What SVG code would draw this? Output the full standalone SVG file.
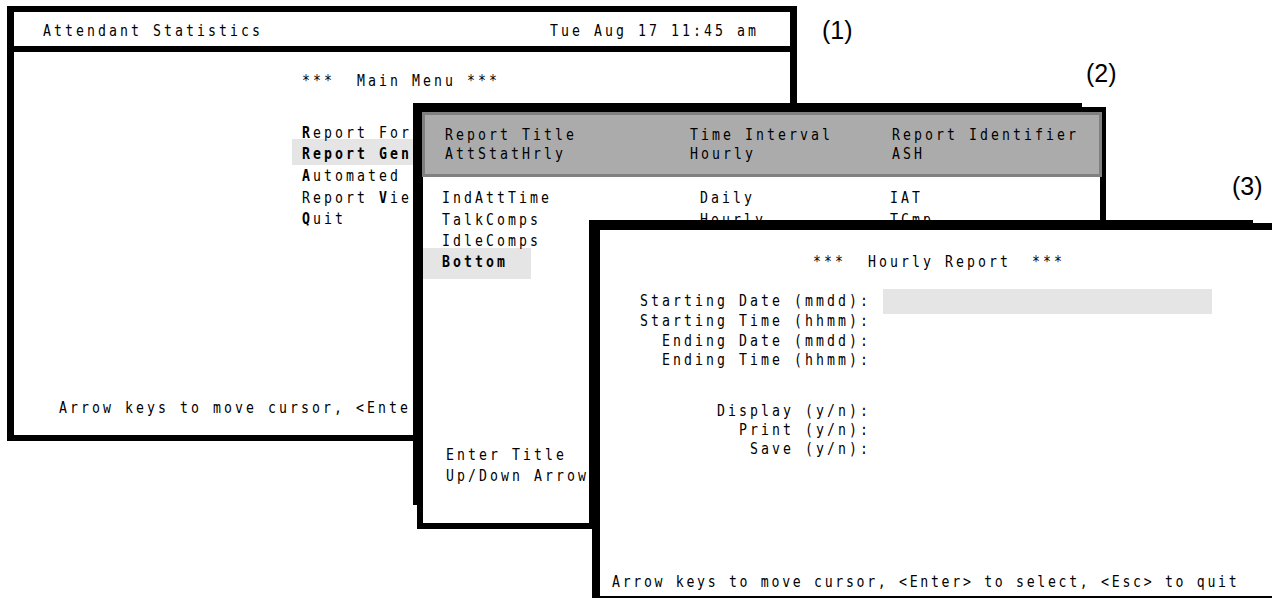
<svg xmlns="http://www.w3.org/2000/svg" width="1272" height="598" viewBox="0 0 1272 598">
<style>
.t{font-family:"DejaVu Sans Mono","Liberation Mono",monospace;font-size:16.5px;letter-spacing:3.82px;fill:#000;white-space:pre}
.b{font-weight:bold}
.n{letter-spacing:3.36px}
.lbl{font-family:"Liberation Sans",Arial,sans-serif;font-size:25px;fill:#000}
.k{fill:#000}
.w{fill:#fff}
.hl{fill:#e5e5e5}
</style>
<rect x="0" y="0" width="1272" height="598" fill="#fff"/>
<g id="window1">
<rect class="k" x="7" y="6" width="790" height="435"/>
<rect class="w" x="14" y="12" width="776" height="34"/>
<rect class="w" x="14" y="52" width="776" height="383"/>
<rect class="hl" x="292" y="139" width="121" height="26"/>
<g transform="scale(0.8 1)">
<text class="t" x="53.75" y="36">Attendant Statistics</text>
<text class="t" x="687.5" y="36">Tue Aug 17 11:45 am</text>
<text class="t" x="377.5" y="86" xml:space="preserve">***  Main Menu ***</text>
<text class="t" x="377.5" y="138"><tspan class="b">R</tspan>eport For</text>
<text class="t b" x="377.5" y="159">Report Gen</text>
<text class="t" x="377.5" y="181"><tspan class="b">A</tspan>utomated</text>
<text class="t" x="377.5" y="203">Report <tspan class="b">V</tspan>ie</text>
<text class="t" x="377.5" y="224"><tspan class="b">Q</tspan>uit</text>
<text class="t" x="73.75" y="413">Arrow keys to move cursor, &lt;Ente</text>
</g>
</g>
<g id="label1"><text class="lbl" x="822" y="39">(1)</text></g>
<g id="window2">
<rect class="w" x="417" y="107" width="686" height="422"/>
<rect class="k" x="413" y="103" width="669" height="9"/>
<rect class="k" x="1082" y="107" width="24" height="5"/>
<rect class="k" x="413" y="103" width="10" height="402"/>
<rect class="k" x="417" y="505" width="6" height="24"/>
<rect class="k" x="1100" y="107" width="6" height="130"/>
<rect class="k" x="417" y="523" width="185" height="6"/>
<rect x="423.5" y="113.5" width="677" height="62" fill="#ababab" stroke="#808080" stroke-width="3"/>
<rect class="hl" x="423" y="248" width="108" height="31"/>
<g transform="scale(0.8 1)">
<text class="t" x="556.25" y="140">Report Title</text>
<text class="t" x="556.25" y="159">AttStatHrly</text>
<text class="t" x="862.5" y="140">Time Interval</text>
<text class="t" x="862.5" y="159">Hourly</text>
<text class="t" x="1115" y="140">Report Identifier</text>
<text class="t" x="1115" y="159">ASH</text>
<text class="t" x="552.5" y="203">IndAttTime</text>
<text class="t" x="875" y="203">Daily</text>
<text class="t" x="1112.5" y="203">IAT</text>
<text class="t" x="552.5" y="225">TalkComps</text>
<text class="t" x="875" y="225">Hourly</text>
<text class="t" x="1112.5" y="225">TCmp</text>
<text class="t" x="552.5" y="246">IdleComps</text>
<text class="t b" x="552.5" y="267">Bottom</text>
<text class="t" x="557.5" y="460">Enter Title</text>
<text class="t" x="557.5" y="481">Up/Down Arrow</text>
</g>
</g>
<g id="label2"><text class="lbl" x="1086" y="82">(2)</text></g>
<g id="window3">
<rect class="w" x="600" y="230" width="672" height="366"/>
<rect class="k" x="589" y="220" width="664" height="10"/>
<rect class="k" x="1253" y="223" width="19" height="7"/>
<rect class="k" x="589" y="220" width="11" height="309"/>
<rect class="k" x="592" y="529" width="8" height="69"/>
<rect class="k" x="592" y="596" width="680" height="2"/>
<rect class="hl" x="883" y="289" width="329" height="25"/>
<g transform="scale(0.8 1)">
<text class="t" x="1016.25" y="267" xml:space="preserve">***  Hourly Report <tspan x="1290">***</tspan></text>
<text class="t" x="800" y="306">Starting Date (mmdd):</text>
<text class="t" x="800" y="326">Starting Time (hhmm):</text>
<text class="t" x="827.5" y="346">Ending Date (mmdd):</text>
<text class="t" x="827.5" y="365">Ending Time (hhmm):</text>
<text class="t" x="896.25" y="416">Display (y/n):</text>
<text class="t" x="923.75" y="435">Print (y/n):</text>
<text class="t" x="937.5" y="454">Save (y/n):</text>
<text class="t n" x="765" y="587">Arrow keys to move cursor, &lt;Enter&gt; to select, &lt;Esc&gt; to quit</text>
</g>
</g>
<g id="label3"><text class="lbl" x="1232" y="195">(3)</text></g>
<g id="connectors"/>
</svg>
